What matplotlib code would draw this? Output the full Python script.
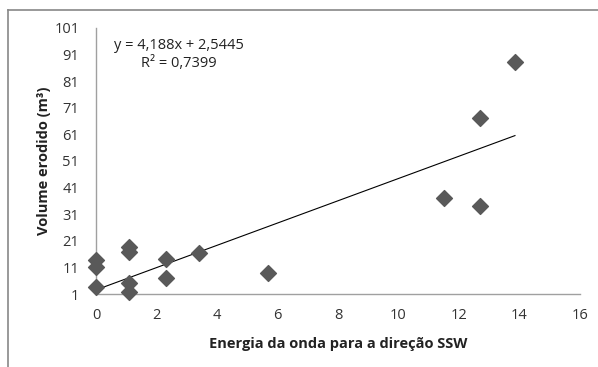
import matplotlib
matplotlib.use("Agg")
import matplotlib.pyplot as plt
import numpy as np

energia = [0.0, 0.0, 0.0, 1.1, 1.1, 1.1, 1.1, 2.3, 2.3, 3.4, 5.7, 11.5, 12.7, 12.7, 13.85]
volume = [3.6, 11.0, 13.7, 1.7, 5.0, 16.8, 18.7, 14.0, 6.9, 16.6, 9.0, 37.2, 34.1, 67.2, 88.4]
slope = 4.188
intercept = 2.5445
r2 = "0,7399"
x_ticks = [0, 2, 4, 6, 8, 10, 12, 14, 16]
y_ticks = [1, 11, 21, 31, 41, 51, 61, 71, 81, 91, 101]

plt.rcParams['font.family'] = ['Open Sans', 'DejaVu Sans']

fig = plt.figure(figsize=(5.98, 3.67), dpi=100)
ax = fig.add_axes([96/598, 1-294/367, 484/598, 266/367])

ax.scatter(energia, volume, marker='D', s=65, color='#595959', zorder=3, clip_on=False)
xs = np.array([0, max(energia)])
ax.plot(xs, slope*xs + intercept, color='black', lw=0.8, zorder=2)

ax.set_xlim(0, 16)
ax.set_ylim(1, 101)
ax.set_xticks(x_ticks)
ax.set_yticks(y_ticks)
ax.tick_params(axis='both', length=0, labelsize=10.5, colors='#333333')
ax.tick_params(axis='y', pad=12)
ax.tick_params(axis='x', pad=10)
for s in ['top', 'right']:
    ax.spines[s].set_visible(False)
for s in ['left', 'bottom']:
    ax.spines[s].set_color('#a0a0a0')
    ax.spines[s].set_linewidth(1)

ax.set_xlabel('Energia da onda para a direção SSW', fontsize=10.5, fontweight='bold', color='#222222', labelpad=10)
ax.set_ylabel('Volume erodido (m³)', fontsize=10.5, fontweight='bold', color='#222222', labelpad=2)

ax.text(0.171, 0.936, f"y = {str(slope).replace('.', ',')}x + {str(intercept).replace('.', ',')}",
        transform=ax.transAxes, ha='center', va='center', fontsize=10.5, color='#222222')
ax.text(0.171, 0.865, f"R² = {r2}", transform=ax.transAxes, ha='center', va='center',
        fontsize=10.5, color='#222222')

# outer frame (top and left visible)
fig.add_artist(plt.Line2D([8/598, 1], [1-10/367, 1-10/367], transform=fig.transFigure, color='#888888', lw=1.2))
fig.add_artist(plt.Line2D([8/598, 8/598], [0, 1-10/367], transform=fig.transFigure, color='#888888', lw=1.2))

fig.savefig('out.png', dpi=100)
